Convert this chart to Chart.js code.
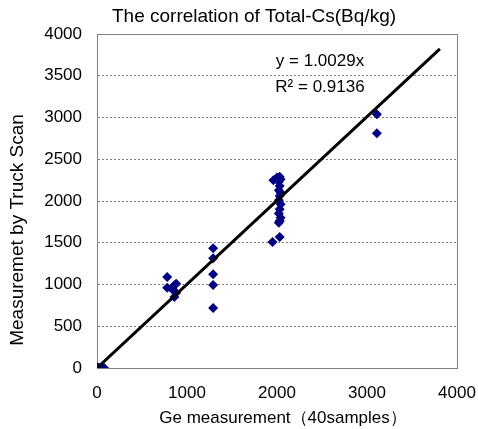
<!DOCTYPE html>
<html>
<head>
<meta charset="utf-8">
<script src="https://cdn.jsdelivr.net/npm/chart.js@4.4.1/dist/chart.umd.min.js"></script>
<style>
html,body{margin:0;padding:0;background:#fff;}
#wrap{width:478px;height:429px;position:relative;}
</style>
</head>
<body>
<div id="wrap"><canvas id="c" width="478" height="429"></canvas></div>
<script>
const chartTitle = "The correlation of Total-Cs(Bq/kg)";
const xTitle = "Ge measurement（40samples）";
const yTitle = "Measuremet by Truck Scan";
const eqText = "y = 1.0029x";
const r2Text = "R² = 0.9136";

const geX = [0,20,40,60,80,10,50,30,
  780,780,830,860,880,880,860,
  1290,1290,1290,1290,1290,
  1960,2000,2030,2040,2020,2030,2020,2040,2030,2020,2040,2030,2020,2040,2030,2020,1950,2030,
  3110,3110];
const truckY = [0,0,0,0,0,5,5,0,
  1090,960,950,990,1010,900,850,
  1435,1315,1124,993,718,
  2250,2280,2290,2260,2230,2180,2130,2100,2060,2010,1960,1900,1850,1800,1760,1740,1510,1570,
  3040,2810];
const trendX = [0, 3810];
const trendY = [0, 3821];
const xTicks = [0,1000,2000,3000,4000];
const yTicks = [0,500,1000,1500,2000,2500,3000,3500,4000];

const FONT = "'Liberation Sans', Arial, sans-serif";

const textPlugin = {
  id: 'texts',
  afterDraw(chart) {
    const ctx = chart.ctx;
    const a = chart.chartArea;
    ctx.save();
    ctx.strokeStyle = '#808080';
    ctx.lineWidth = 1;
    ctx.beginPath();
    ctx.moveTo(a.left, a.top + 0.5);
    ctx.lineTo(a.right + 0.5, a.top + 0.5);
    ctx.lineTo(a.right + 0.5, a.bottom);
    ctx.stroke();
    ctx.fillStyle = '#000';
    ctx.textAlign = 'center';
    ctx.textBaseline = 'middle';
    ctx.font = "19px " + FONT;
    ctx.fillText(chartTitle, 254, 17);
    ctx.font = "17px " + FONT;
    ctx.fillText(eqText, 320, 61);
    ctx.fillText(r2Text, 320, 87);
    ctx.font = "17px " + FONT;
    ctx.fillText(xTitle, 283, 418);
    ctx.translate(18, 230);
    ctx.rotate(-Math.PI/2);
    ctx.font = "19px " + FONT;
    ctx.fillText(yTitle, 0, 0);
    ctx.restore();
  }
};

const pts = geX.map((x,i)=>({x:x, y:truckY[i]}));
const trend = trendX.map((x,i)=>({x:x, y:trendY[i]}));

new Chart(document.getElementById('c'), {
  type: 'scatter',
  data: {
    datasets: [
      {
        label: 'samples',
        data: pts,
        pointStyle: 'rectRot',
        radius: 5,
        hoverRadius: 5,
        backgroundColor: '#000080',
        borderColor: '#000080',
        borderWidth: 0,
        order: 2
      },
      {
        type: 'line',
        label: 'trend',
        data: trend,
        borderColor: '#000',
        borderWidth: 3,
        pointRadius: 0,
        fill: false,
        order: 1
      }
    ]
  },
  options: {
    responsive: false,
    animation: false,
    devicePixelRatio: 1,
    layout: { padding: { left: 0, top: 34, right: 21, bottom: 0 } },
    plugins: { legend: { display: false }, tooltip: { enabled: false }, title: { display: false } },
    scales: {
      x: {
        type: 'linear',
        min: 0, max: 4000,
        afterBuildTicks(s){ s.ticks = xTicks.map(v=>({value:v})); },
        afterFit(s){ s.height = 61; s.paddingLeft = 0; s.paddingRight = 0; },
        grid: { display: false, drawTicks: false },
        border: { display: true, color: '#808080', width: 1 },
        ticks: { color: '#000', font: { family: FONT, size: 17 }, padding: 15, maxRotation: 0,
          callback: (v)=> String(v) }
      },
      y: {
        type: 'linear',
        min: 0, max: 4000,
        afterBuildTicks(s){ s.ticks = yTicks.map(v=>({value:v})); },
        afterFit(s){ s.width = 97; s.paddingTop = 0; s.paddingBottom = 0; },
        grid: {
          display: true, drawTicks: false, color: (c)=> (c.tick && (c.tick.value===0 || c.tick.value===4000)) ? 'rgba(0,0,0,0)' : '#808080', lineWidth: 1
        },
        border: { display: true, color: '#808080', width: 1, dash: [2,2] },
        ticks: { color: '#000', font: { family: FONT, size: 17 }, padding: 15,
          callback: (v)=> String(v) }
      }
    }
  },
  plugins: [textPlugin]
});
</script>
</body>
</html>
